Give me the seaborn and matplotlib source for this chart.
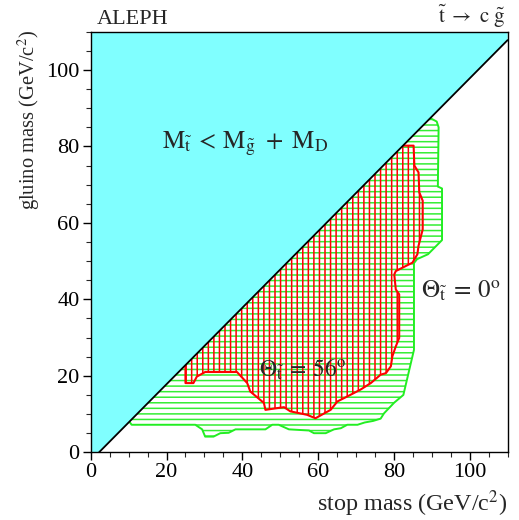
import numpy as np
import pandas as pd
import matplotlib
matplotlib.use("Agg")
import matplotlib.pyplot as plt
import seaborn as sns

# ---- data (GeV/c^2) ----
M_D = 2.2
AX_MAX = 110

# Theta = 0 deg excluded region (green), boundary below the kinematic line
green_x = [8.0, 88.5, 91.3, 91.8, 91.6, 92.7, 92.7, 89.0, 86.1, 85.3, 85.3, 82.5, 80.1,
           77.4, 76.5, 74.5, 72.3, 70.4, 67.7, 66.0, 64.2, 62.0, 58.9, 57.6, 52.3,
           49.6, 47.9, 46.1, 38.2, 36.4, 34.2, 32.4, 30.2, 29.4, 27.6, 10.8, 10.2]
green_y = [8.0, 88.0, 86.5, 85.0, 69.5, 69.0, 55.5, 51.8, 50.5, 49.5, 26.8, 15.0, 13.0,
           10.2, 8.8, 8.2, 7.8, 7.2, 7.2, 6.3, 6.0, 5.0, 5.0, 5.7, 6.0,
           7.2, 7.2, 6.0, 6.0, 5.1, 5.0, 4.1, 4.1, 6.0, 7.2, 7.2, 8.0]

# Theta = 56 deg excluded region (red)
red_x = [25.0, 25.0, 27.1, 28.0, 30.2, 38.6, 41.3, 42.1, 45.7, 46.1, 48.8, 51.0, 52.7,
         57.1, 59.3, 63.3, 65.1, 67.7, 71.2, 73.9, 76.5, 77.9, 79.2, 79.6, 80.5,
         81.4, 81.4, 80.5, 80.1, 80.5, 84.9, 86.2, 86.5, 87.6, 87.6, 86.7, 86.5,
         85.4, 85.2, 82.0, 24.0]
red_y = [24.0, 18.1, 18.1, 19.8, 21.0, 21.0, 18.1, 15.9, 12.9, 11.1, 11.5, 11.8, 10.7,
         9.8, 8.9, 11.1, 13.3, 14.6, 16.4, 18.1, 20.3, 20.7, 22.5, 25.1, 27.7,
         29.9, 41.3, 42.6, 46.5, 47.4, 49.6, 51.8, 54.0, 58.3, 65.8, 68.0, 73.2,
         75.0, 80.2, 80.2, 23.0]

# kinematic limit M_stop = M_gluino + M_D
kin_x = [M_D, AX_MAX]
kin_y = [0, AX_MAX - M_D]

# ---- style ----
sns.set_style("ticks")
plt.rcParams["font.family"] = ["Liberation Serif", "DejaVu Serif"]
plt.rcParams["mathtext.fontset"] = "stix"
plt.rcParams["hatch.linewidth"] = 1.1

CYAN = "#80ffff"
GREEN = "#33ee33"
RED = "#ff0000"

fig = plt.figure(figsize=(5.19, 5.20), dpi=100)
ax = fig.add_axes([0.1748, 0.1302, 0.978 - 0.1748, 0.939 - 0.1302])

# hatched regions
ax.fill(green_x, green_y, facecolor="none", edgecolor=GREEN, hatch="---",
        linewidth=0, zorder=1)
ax.fill(red_x, red_y, facecolor="none", edgecolor=RED, hatch="|||",
        linewidth=0, zorder=1.1)
gdf = pd.DataFrame({"x": green_x + green_x[:1], "y": green_y + green_y[:1]})
rdf = pd.DataFrame({"x": red_x + red_x[:1], "y": red_y + red_y[:1]})
sns.lineplot(data=gdf, x="x", y="y", sort=False, estimator=None, color="#22ee22",
             linewidth=1.4, ax=ax, zorder=1.2)
sns.lineplot(data=rdf, x="x", y="y", sort=False, estimator=None, color=RED,
             linewidth=1.5, ax=ax, zorder=1.3)

# forbidden region (cyan) above the kinematic line
ax.fill([0, kin_x[0], kin_x[1], AX_MAX, 0], [0, kin_y[0], kin_y[1], AX_MAX, AX_MAX],
        facecolor=CYAN, edgecolor="none", zorder=1.5)
kdf = pd.DataFrame({"x": kin_x, "y": kin_y})
sns.lineplot(data=kdf, x="x", y="y", color="black", linewidth=1.3, ax=ax, zorder=2)

ax.set_xlim(0, AX_MAX)
ax.set_ylim(0, AX_MAX)
ax.set_xticks([0, 20, 40, 60, 80, 100])
ax.set_yticks([0, 20, 40, 60, 80, 100])
ax.set_xticks(np.arange(0, AX_MAX + 1, 5), minor=True)
ax.set_yticks(np.arange(0, AX_MAX + 1, 5), minor=True)
ax.tick_params(which="major", direction="out", length=6, width=1, labelsize=16,
               pad=2, colors="black")
ax.tick_params(which="minor", direction="out", length=3.5, width=0.8)
ax.set_xlabel("")
ax.set_ylabel("")
for s in ax.spines.values():
    s.set_visible(True)
    s.set_linewidth(1.0)
    s.set_color("black")
    s.set_zorder(3)

# texts
ax.text(40.8, 79.3, r"$\mathrm{M}_{\tilde{\mathrm{t}}}\:<\:\mathrm{M}_{\tilde{\mathrm{g}}}\ +\ \mathrm{M}_{\mathrm{D}}$",
        ha="center", va="baseline", fontsize=18, zorder=4)
ax.text(97.8, 40.4, r"$\Theta_{\tilde{\mathrm{t}}}\:=\:0^{\mathrm{o}}$",
        ha="center", va="baseline", fontsize=18, zorder=4)
ax.text(56.0, 19.8, r"$\Theta_{\tilde{\mathrm{t}}}\:=\:56^{\mathrm{o}}$",
        ha="center", va="baseline", fontsize=17, zorder=4)

fig.text(97 / 519, 1 - 23.5 / 520, "ALEPH", ha="left", va="baseline", fontsize=16)
fig.text(505 / 519, 1 - 23.5 / 520, r"$\tilde{\mathrm{t}}\ \rightarrow\ \mathrm{c}\ \tilde{\mathrm{g}}$",
         ha="right", va="baseline", fontsize=15)
fig.text(507 / 519, 1 - 511 / 520, r"stop mass (GeV/c$^2$)", ha="right", va="baseline",
         fontsize=17.4)
fig.text(29 / 519, 1 - 30 / 520, r"gluino mass (GeV/c$^2$)", ha="center", va="top",
         rotation=90, fontsize=14.8)

fig.savefig("out.png", dpi=100)
